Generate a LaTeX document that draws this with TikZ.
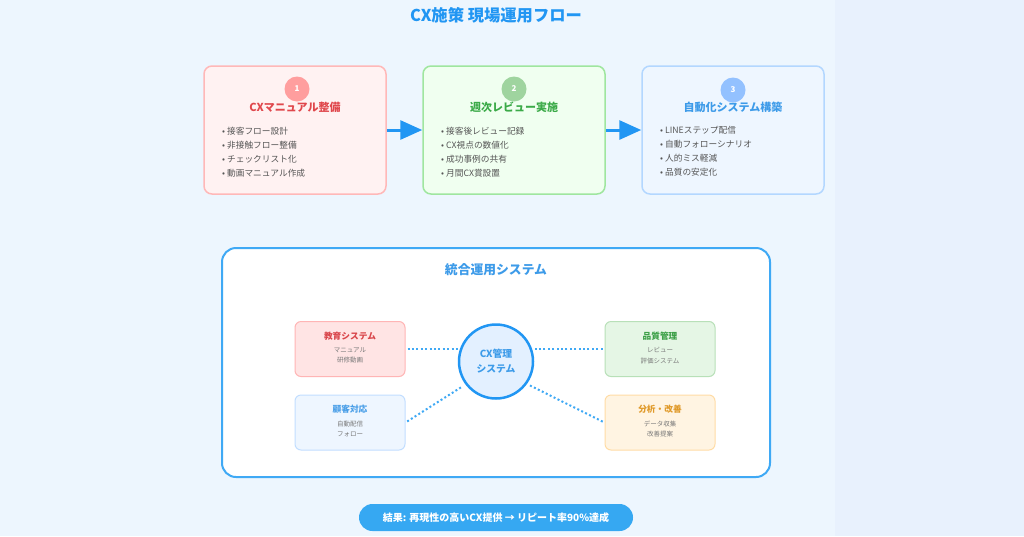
\documentclass[tikz,border=0pt]{standalone}
\usepackage{fontspec}
\setmainfont{Noto Sans CJK JP}
\usetikzlibrary{arrows.meta}
\definecolor{bgA}{HTML}{E8F1FD}
\definecolor{bgB}{HTML}{EDF6FE}
\definecolor{mainblue}{HTML}{2196F3}
\definecolor{redF}{HTML}{FFF2F2}\definecolor{redB}{HTML}{FFB8B8}\definecolor{redC}{HTML}{FF9E9E}\definecolor{redT}{HTML}{E0474C}
\definecolor{grnF}{HTML}{F0FFF0}\definecolor{grnB}{HTML}{9FE69F}\definecolor{grnC}{HTML}{9FD49F}\definecolor{grnT}{HTML}{3BAA48}
\definecolor{bluF}{HTML}{EEF6FF}\definecolor{bluB}{HTML}{B3D7FF}\definecolor{bluC}{HTML}{93C1FF}\definecolor{bluT}{HTML}{3D9BE9}
\definecolor{txtG}{HTML}{555555}\definecolor{subG}{HTML}{7A7A7A}
\definecolor{bigB}{HTML}{3FA9F5}
\definecolor{s1F}{HTML}{FFE4E4}\definecolor{s1B}{HTML}{FFB5B5}\definecolor{s1T}{HTML}{D9464B}
\definecolor{s2F}{HTML}{EEF6FF}\definecolor{s2B}{HTML}{C2DEFF}\definecolor{s2T}{HTML}{4A9FE8}
\definecolor{s3F}{HTML}{E5F6E5}\definecolor{s3B}{HTML}{B8E0B8}\definecolor{s3T}{HTML}{3DA048}
\definecolor{s4F}{HTML}{FFF4E2}\definecolor{s4B}{HTML}{FFDCA5}\definecolor{s4T}{HTML}{E09A2A}
\definecolor{cirF}{HTML}{E3F0FF}
\definecolor{banF}{HTML}{36A8F2}
\tikzset{
  stepbox/.style={draw, line width=1.5pt, rounded corners=8pt, minimum width=182pt, minimum height=128pt, inner sep=0pt},
  numdot/.style={circle, minimum size=25pt, inner sep=0pt, text=white, font=\fontsize{8}{8}\selectfont\bfseries},
  steptitle/.style={font=\fontsize{11}{11}\selectfont\bfseries, inner sep=0pt},
  bullets/.style={anchor=north west, align=left, text=txtG, font=\fontsize{8.7}{14}\selectfont, inner sep=0pt},
  flowarrow/.style={draw=mainblue, line width=3pt, -{Triangle[length=22pt,width=19pt]}},
  subbox/.style={draw, line width=1pt, rounded corners=6pt, minimum width=110pt, minimum height=55pt, inner sep=0pt},
  subtitle/.style={font=\fontsize{8.7}{8.7}\selectfont\bfseries, inner sep=0pt},
  sublines/.style={align=center, text=subG, font=\fontsize{6.5}{10.5}\selectfont, inner sep=0pt, anchor=north},
  dotline/.style={draw=bigB, line width=2pt, dash pattern=on 2pt off 2.4pt},
}
\begin{document}
\begin{tikzpicture}[x=1pt,y=-1pt]
\path[use as bounding box, fill=bgA] (0,0) rectangle (1024,536);
\fill[bgB] (0,0) rectangle (835,536);

\node[text=mainblue, font=\fontsize{16.3}{16.3}\selectfont\bfseries] (title) at (496,15) {CX施策 現場運用フロー};

% step boxes
\node[stepbox, draw=redB, fill=redF] (b1) at (295,130) {};
\node[stepbox, draw=grnB, fill=grnF] (b2) at (514,130) {};
\node[stepbox, draw=bluB, fill=bluF] (b3) at (733,130) {};

\node[numdot, fill=redC] (n1) at (297,89) {1};
\node[numdot, fill=grnC] (n2) at (514,89) {2};
\node[numdot, fill=bluC] (n3) at (733,90) {3};

\node[steptitle, text=redT] (t1) at (295,107) {CXマニュアル整備};
\node[steptitle, text=grnT] (t2) at (514,107) {週次レビュー実施};
\node[steptitle, text=bluT] (t3) at (733,107) {自動化システム構築};

\node[bullets] (l1) at (222,126.5) {• 接客フロー設計\\• 非接触フロー整備\\• チェックリスト化\\• 動画マニュアル作成};
\node[bullets] (l2) at (441,126.5) {• 接客後レビュー記録\\• CX視点の数値化\\• 成功事例の共有\\• 月間CX賞設置};
\node[bullets] (l3) at (660,126.5) {• LINEステップ配信\\• 自動フォローシナリオ\\• 人的ミス軽減\\• 品質の安定化};

\draw[flowarrow] (b1.east) -- (b2.west);
\draw[flowarrow] (b2.east) -- (b3.west);

% integrated system
\node[draw=bigB, line width=2pt, fill=white, rounded corners=14pt, minimum width=548pt, minimum height=229pt] (big) at (496,362.5) {};
\node[text=bluT, font=\fontsize{12.8}{12.8}\selectfont\bfseries] (bigt) at (496,270) {統合運用システム};

\node[subbox, draw=s1B, fill=s1F] (edu) at (350,349) {};
\node[subbox, draw=s2B, fill=s2F] (cus) at (350,422.5) {};
\node[subbox, draw=s3B, fill=s3F] (qua) at (660,349) {};
\node[subbox, draw=s4B, fill=s4F] (ana) at (660,422.5) {};

\node[subtitle, text=s1T] (edut) at (350,336) {教育システム};
\node[subtitle, text=s2T] (cust) at (350,409.5) {顧客対応};
\node[subtitle, text=s3T] (quat) at (660,336) {品質管理};
\node[subtitle, text=s4T] (anat) at (660,409.5) {分析・改善};

\node[sublines] (edus) at (350,347) {マニュアル\\研修動画};
\node[sublines] (cuss) at (350,420.5) {自動配信\\フォロー};
\node[sublines] (quas) at (660,347) {レビュー\\評価システム};
\node[sublines] (anas) at (660,420.5) {データ収集\\改善提案};

\node[circle, draw=mainblue, line width=2.5pt, fill=cirF, minimum size=74pt, inner sep=0pt, align=center, text=bluT, font=\fontsize{9.8}{15}\selectfont\bfseries] (cx) at (496,361.5) {CX管理\\システム};

\draw[dotline, shorten <=2pt] (edu.east) -- (edu.east -| cx.west);
\draw[dotline, shorten <=2pt] (qua.west) -- (qua.west -| cx.east);
\draw[dotline, shorten <=2pt, shorten >=3pt] (cus.east) -- (cx.217);
\draw[dotline, shorten <=2pt, shorten >=3pt] (ana.west) -- (cx.324);

% result banner
\node[fill=banF, rounded corners=13.5pt, minimum width=274pt, minimum height=27pt, inner sep=0pt, text=white, font=\fontsize{10}{10}\selectfont\bfseries] (res) at (496,517.5) {結果: 再現性の高いCX提供 → リピート率90\%達成};
\end{tikzpicture}
\end{document}
